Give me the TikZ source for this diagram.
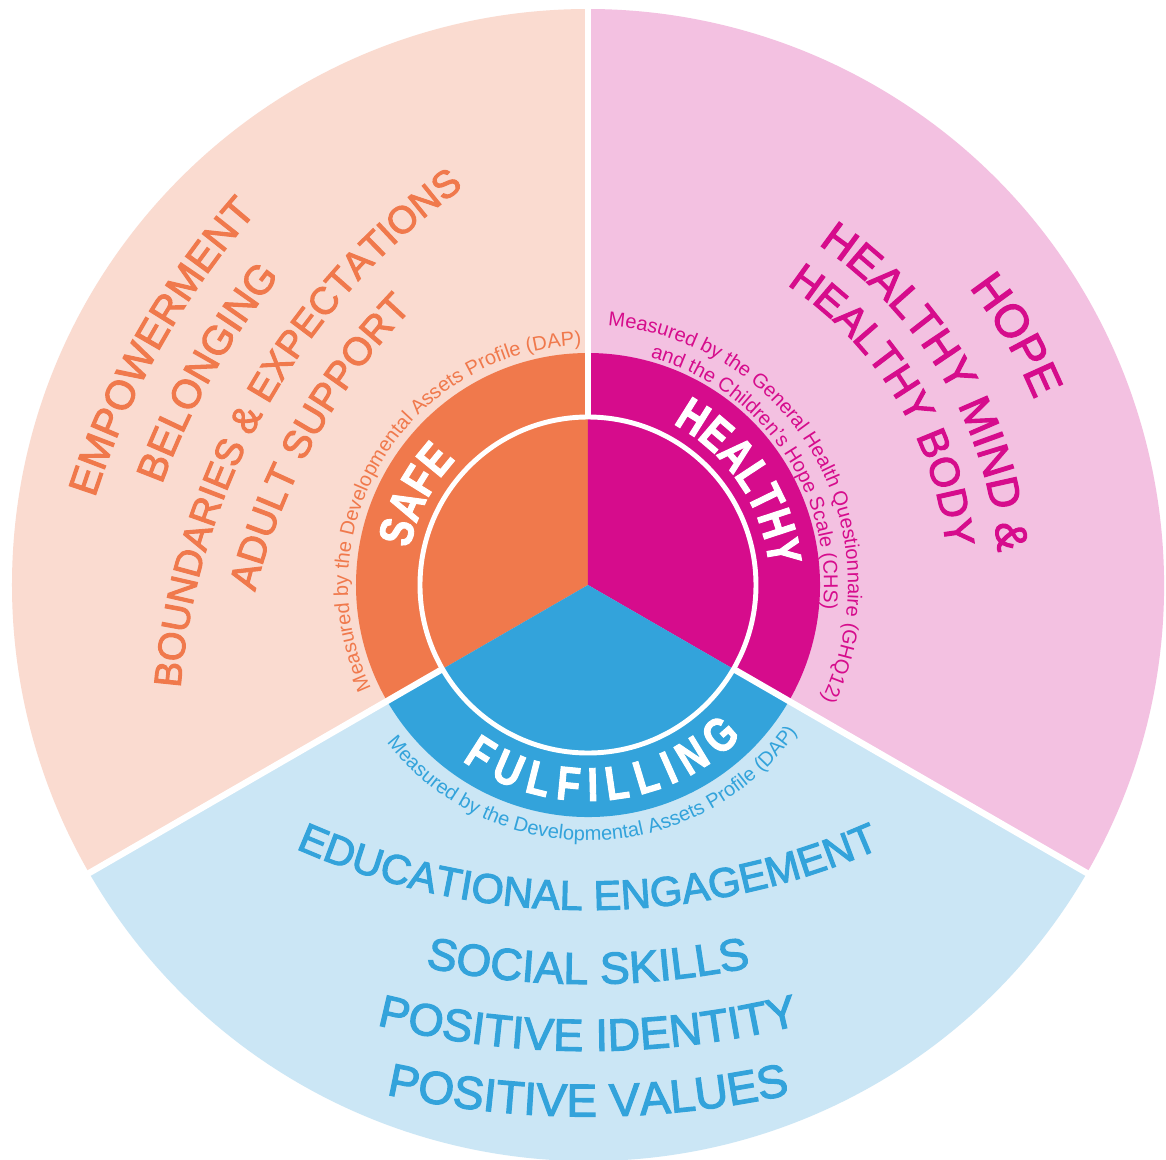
\documentclass[tikz,border=0pt]{standalone}
\usepackage{fontspec}
\setmainfont{Liberation Sans}
\newfontfamily\labelfont{Liberation Sans}[FakeBold=2.5]
\newfontfamily\ringfont{Liberation Sans}[FakeStretch=0.8, FakeBold=2]
\usepackage{tikz}
\usetikzlibrary{decorations.text}
\definecolor{safelight}{RGB}{250,219,208}
\definecolor{safeorange}{RGB}{240,121,76}
\definecolor{healthylight}{RGB}{243,193,225}
\definecolor{healthypink}{RGB}{214,12,140}
\definecolor{fulfillight}{RGB}{203,230,245}
\definecolor{fulfilblue}{RGB}{51,163,219}
\newcommand{\fsz}[1]{\fontsize{#1}{#1}\selectfont}
\tikzset{
  arctext/.style={decorate, decoration={text along path, text align=center, text={#1}}},
  fittext/.style={decorate, decoration={text along path, text align={fit to path}, text={#1}}}
}

\begin{document}
\begin{tikzpicture}[x=0.01cm, y=0.01cm]
    \useasboundingbox (-588,-575) rectangle (578,585);
    \fill[white] (-588,-575) rectangle (578,585);

    % Outer sectors
    \fill[safelight] (0,0) -- (90:576) arc[start angle=90, end angle=210, radius=576] -- cycle;
    \fill[healthylight] (0,0) -- (-30:576) arc[start angle=-30, end angle=90, radius=576] -- cycle;
    \fill[fulfillight] (0,0) -- (210:576) arc[start angle=210, end angle=330, radius=576] -- cycle;

    % Inner ring and core
    \fill[safeorange] (0,0) -- (90:232) arc[start angle=90, end angle=210, radius=232] -- cycle;
    \fill[healthypink] (0,0) -- (-30:232) arc[start angle=-30, end angle=90, radius=232] -- cycle;
    \fill[fulfilblue] (0,0) -- (210:232) arc[start angle=210, end angle=330, radius=232] -- cycle;
    \draw[white, line width=1.4pt] (0,0) circle[radius=168];
    \foreach \a in {90,210,330} {
        \draw[white, line width=1.8pt] (\a:168) -- (\a:580);
    }

    % Ring labels
    \path[arctext={|\ringfont\bfseries\fsz{13.5pt}\color{white}|SAFE}] (192.5:182) arc[start angle=192.5, end angle=112.5, radius=182];
    \path[arctext={|\ringfont\bfseries\fsz{13.5pt}\color{white}|HEALTHY}] (79:182) arc[start angle=79, end angle=-11, radius=182];
    \path[fittext={|\ringfont\bfseries\fsz{13.5pt}\color{white}|FULFILLING}] (234.4:216) arc[start angle=234.4, end angle=315.3, radius=216];

    % Measured by
    \path[arctext={|\fsz{5.7pt}\color{safeorange}|Measured by the Developmental Assets Profile (DAP)}] (218.5:240) arc[start angle=218.5, end angle=78.5, radius=240];
    \path[arctext={|\fsz{5.7pt}\color{healthypink}|Measured by the General Health Questionnaire (GHQ12)}] (99.75:260) arc[start angle=99.75, end angle=-40.25, radius=260];
    \path[arctext={|\fsz{5.7pt}\color{healthypink}|and the Children’s Hope Scale (CHS)}] (94.4:236) arc[start angle=94.4, end angle=-25.6, radius=236];
    \path[arctext={|\fsz{5.7pt}\color{fulfilblue}|Measured by the Developmental Assets Profile (DAP)}] (201.5:255.6) arc[start angle=201.5, end angle=341.5, radius=255.6];

    % Safe
    \begin{scope}[shift={(278,-160.5)}]
        \path[arctext={|\labelfont\fsz{11.6pt}\color{safeorange}|EMPOWERMENT}] (180.5:810) arc[start angle=180.5, end angle=120.5, radius=810];
        \path[arctext={|\labelfont\fsz{11.5pt}\color{safeorange}|BELONGING}] (180.5:751) arc[start angle=180.5, end angle=120.5, radius=751];
        \path[arctext={|\labelfont\fsz{10.85pt}\color{safeorange}|BOUNDARIES {\&} EXPECTATIONS}] (180.5:688) arc[start angle=180.5, end angle=120.5, radius=688];
        \path[arctext={|\labelfont\fsz{11.1pt}\color{safeorange}|ADULT SUPPORT}] (181:630) arc[start angle=181, end angle=121, radius=630];
    \end{scope}

    % Healthy
    \path[arctext={|\labelfont\fsz{13.1pt}\color{healthypink}|HOPE}] (60.25:483.5) arc[start angle=60.25, end angle=0.25, radius=483.5];
    \path[arctext={|\labelfont\fsz{12.5pt}\color{healthypink}|HEALTHY MIND {\&}}] (75.25:411) arc[start angle=75.25, end angle=-14.75, radius=411];
    \path[arctext={|\labelfont\fsz{11.7pt}\color{healthypink}|HEALTHY BODY}] (76.2:360) arc[start angle=76.2, end angle=-13.8, radius=360];

    % Fulfilling
    \begin{scope}[shift={(0,400)}]
        \path[arctext={|\labelfont\fsz{11.8pt}\color{fulfilblue}|EDUCATIONAL ENGAGEMENT}] (240:725) arc[start angle=240, end angle=300, radius=725];
        \path[arctext={|\labelfont\fsz{12.7pt}\color{fulfilblue}|SOCIAL SKILLS}] (240:799) arc[start angle=240, end angle=300, radius=799];
        \path[arctext={|\labelfont\fsz{12.85pt}\color{fulfilblue}|POSITIVE IDENTITY}] (240:866) arc[start angle=240, end angle=300, radius=866];
        \path[arctext={|\labelfont\fsz{13.1pt}\color{fulfilblue}|POSITIVE VALUES}] (240:931.5) arc[start angle=240, end angle=300, radius=931.5];
    \end{scope}
\end{tikzpicture}
\end{document}
